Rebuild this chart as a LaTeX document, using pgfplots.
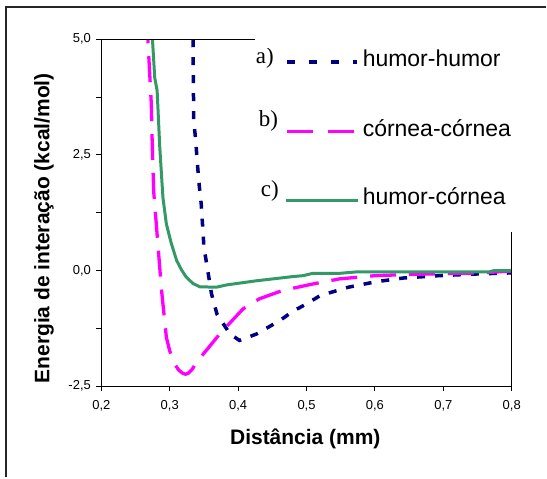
\documentclass[border=0pt]{standalone}
\usepackage{pgfplots}
\pgfplotsset{compat=1.18}
\usepackage{fontspec}
\setmainfont{Liberation Sans}
\newfontfamily\timesfont{Liberation Serif}

\definecolor{navyc}{RGB}{0,0,128}
\definecolor{magc}{RGB}{255,0,255}
\definecolor{greenc}{RGB}{51,153,102}

\pgfplotstableread{
x y
0.334 5.00
0.335 3.24
0.338 2.81
0.340 2.38
0.343 1.85
0.346 1.44
0.350 0.50
0.356 -0.04
0.361 -0.50
0.369 -0.94
0.388 -1.37
0.402 -1.51
0.427 -1.37
0.461 -1.08
0.480 -0.88
0.500 -0.72
0.520 -0.54
0.561 -0.36
0.602 -0.24
0.642 -0.16
0.693 -0.11
0.755 -0.07
0.800 -0.05
}\humorhumor

\pgfplotstableread{
x y
0.268 5.00
0.273 3.60
0.2747 2.52
0.2766 1.69
0.283 0.50
0.288 -0.43
0.295 -1.44
0.300 -1.74
0.305 -1.94
0.309 -2.06
0.313 -2.15
0.319 -2.22
0.323 -2.24
0.327 -2.22
0.333 -2.13
0.339 -1.98
0.356 -1.68
0.373 -1.37
0.407 -0.83
0.431 -0.61
0.465 -0.43
0.509 -0.29
0.548 -0.18
0.600 -0.11
0.660 -0.08
0.755 -0.05
0.800 -0.01
}\corneacornea

\pgfplotstableread{
x y
0.2747 5.00
0.278 4.17
0.2815 3.89
0.2854 2.66
0.290 1.58
0.295 1.01
0.302 0.60
0.310 0.22
0.317 0.02
0.324 -0.14
0.334 -0.28
0.344 -0.35
0.368 -0.36
0.383 -0.31
0.427 -0.22
0.480 -0.13
0.495 -0.11
0.509 -0.06
0.548 -0.06
0.572 -0.03
0.767 -0.03
0.774 0.00
0.800 0.00
}\humorcornea

\begin{document}
\begin{tikzpicture}[x=1pt,y=1pt]
\path (0,0) rectangle (547,478);
% outer frame (only left and top visible)
\draw[line width=1.3pt, black!85] (6,0) -- (6,471) -- (547,471);

\begin{axis}[
  at={(101.5pt,91.3pt)}, anchor=south west,
  scale only axis, width=410.8pt, height=347.4pt,
  xmin=0.2, xmax=0.8, ymin=-2.5, ymax=5,
  axis x line*=bottom, axis y line*=left,
  axis line style={black, line width=1.1pt},
  xtick={0.2,0.3,0.4,0.5,0.6,0.7,0.8},
  ytick={-2.5,0,2.5,5},
  minor ytick={-1.25,1.25,3.75},
  tick align=outside,
  major tick length=5pt, minor tick length=5pt,
  tick style={black, line width=0.9pt},
  xticklabel style={font=\fontsize{13}{15}\selectfont, yshift=-6pt},
  yticklabel style={font=\fontsize{13}{15}\selectfont, xshift=-2pt},
  /pgf/number format/fixed,
  /pgf/number format/fixed zerofill,
  /pgf/number format/precision=1,
  /pgf/number format/use comma,
  /pgf/number format/assume math mode=true,
  xlabel={Distância (mm)},
  ylabel={Energia de interação (kcal/mol)},
  xlabel style={font=\fontsize{21}{24}\selectfont\bfseries,
    at={(axis description cs:0.497,-0.152)}, anchor=center},
  ylabel style={font=\fontsize{21}{24}\selectfont\bfseries,
    at={(axis description cs:-0.14,0.455)}, anchor=center},
]
\addplot[navyc, line width=3.5pt, dash pattern=on 8pt off 10pt] table {\humorhumor};
\addplot[magc, line width=3.3pt, dash pattern=on 26pt off 13pt, dash phase=22pt] table {\corneacornea};
\addplot[greenc, line width=3pt] table {\humorcornea};
\end{axis}

% remaining parts of the plot-area frame
\draw[line width=1.1pt] (101.5,438.7) -- (255,438.7);
\draw[line width=1.1pt] (512.3,91.3) -- (512.3,245.7);

% legend
\node[anchor=base west, inner sep=0, font=\timesfont\fontsize{23}{26}\selectfont] at (256,414.7) {a)};
\fill[white] (255.8,429.5) rectangle (284,437.8);
\draw[navyc, line width=3.5pt, dash pattern=on 8pt off 14pt] (287,416) -- (357,416);
\node[anchor=base west, inner sep=0, font=\fontsize{23}{26}\selectfont] at (363,411.3) {humor-humor};

\node[anchor=base west, inner sep=0, font=\timesfont\fontsize{23}{26}\selectfont] at (259,351.3) {b)};
\draw[magc, line width=3.3pt, dash pattern=on 26pt off 15pt] (287,346.3) -- (355,346.3);
\node[anchor=base west, inner sep=0, font=\fontsize{23}{26}\selectfont] at (363,341.3) {córnea-córnea};

\node[anchor=base west, inner sep=0, font=\timesfont\fontsize{23}{26}\selectfont] at (261,281.3) {c)};
\draw[greenc, line width=3pt] (286,277.3) -- (358,277.3);
\node[anchor=base west, inner sep=0, font=\fontsize{23}{26}\selectfont] at (363,273) {humor-córnea};
\end{tikzpicture}
\end{document}
